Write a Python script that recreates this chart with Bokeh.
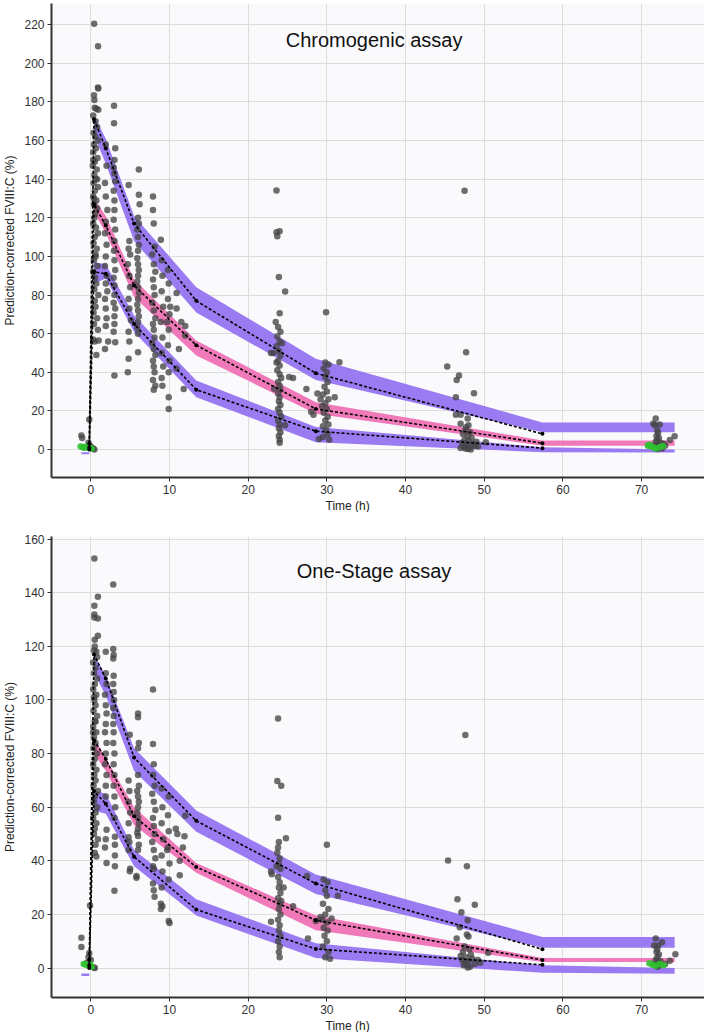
from bokeh.plotting import figure
from bokeh.models import Range1d, FixedTicker, Title, Label
from bokeh.layouts import column
from bokeh.embed import file_html
from bokeh.resources import INLINE

FONT = "Liberation Sans"
PURPLE = "#9a7bf2"
PINK = "#f079b9"
GREEN = "#2fc12f"
GREY = "#454545"

x_ticks = [0, 10, 20, 30, 40, 50, 60, 70]

# ---------------- Chromogenic assay ----------------
chr_y_ticks = [0, 20, 40, 60, 80, 100, 120, 140, 160, 180, 200, 220]
band_t = [0.4, 1.9, 5.5, 13.4, 28.6, 57.4, 74.2]
chr_up_lo = [163, 148, 108, 71, 36, 9, 9]
chr_up_hi = [173, 161, 121, 84, 47, 14, 14]
chr_md_lo = [123, 112, 79, 48.7, 18.5, 2, 2]
chr_md_hi = [130, 121, 88, 56.5, 24.5, 4.7, 4.7]
chr_lw_lo = [86, 88.6, 60.8, 27, 3.8, -1.4, -1.5]
chr_lw_hi = [97, 96, 69.4, 35.8, 11.6, 1.2, 0]

obs_t = [-0.2, 0.4, 1.9, 5.5, 13.4, 28.6, 57.4]
chr_p95 = [3, 171, 156, 117, 77, 39.5, 8.1]
chr_p50 = [1, 127, 116, 85, 54, 21, 3.3]
chr_p05 = [0, 92, 91, 65, 31, 9.5, 0.7]

pre_band_t = [-1.2, -0.2]
chr_pre_lo = [-2.4, -2.4]
chr_pre_hi = [-1.4, -1.4]

chr_pre = [(-1.2, 7.3), (-1.1, 6.0), (-0.2, 15.6), (-0.3, 3.5), (-0.1, 2.0), (0.1, 1.0), (0.45, 0.0), (0.3, 0.5)]
chr_h05 = [(0.42, 220.5), (0.92, 208.8), (0.9, 187.5), (0.95, 187), (0.4, 183.5), (0.45, 181), (0.5, 177), (0.7, 176.5),
           (0.95, 176), (0.3, 173), (0.6, 170), (0.8, 167), (0.35, 164), (0.55, 162), (0.9, 160), (0.4, 158), (0.65, 156),
           (0.3, 154), (0.85, 151), (0.5, 149), (0.25, 147), (0.75, 145), (0.45, 142), (0.6, 140), (0.35, 138), (0.9, 136),
           (0.5, 134), (0.3, 131), (0.7, 129), (0.4, 127), (0.8, 125), (0.55, 122), (0.45, 120), (0.3, 117), (0.65, 115),
           (0.9, 112), (0.5, 110), (0.35, 107), (0.75, 104), (0.6, 101), (0.4, 98), (0.85, 95), (0.3, 92), (0.55, 89),
           (0.7, 86), (0.45, 83), (0.95, 80), (0.5, 77), (0.6, 74), (0.35, 71), (0.8, 68), (0.4, 65), (0.9, 62), (0.3, 57),
           (0.5, 56), (0.7, 49), (1.0, 56.5), (0.6, 100), (0.4, 130), (0.8, 140), (0.3, 150)]
chr_h2 = [(1.9, 158), (2.0, 147), (1.8, 138), (1.9, 131), (2.1, 124), (1.9, 118), (1.8, 112), (2.0, 106), (1.9, 100),
          (1.8, 95), (2.0, 90), (1.9, 86), (2.1, 82), (1.8, 78), (1.9, 73), (2.0, 68), (1.9, 64), (1.8, 52), (2.2, 56)]
chr_h3 = [(2.95, 178), (2.95, 169), (3.1, 156), (3.0, 150), (2.9, 146), (3.0, 143), (3.1, 139), (2.9, 134), (3.0, 129),
          (3.0, 124), (2.9, 119), (3.1, 114), (3.0, 108), (2.95, 103), (3.0, 98), (3.1, 93), (2.9, 89), (3.0, 85),
          (3.0, 80), (2.9, 76), (3.1, 73), (3.0, 69), (3.0, 65), (2.9, 61), (3.1, 55.5), (3.0, 38.3)]
chr_h5 = [(4.8, 137), (4.9, 108), (4.8, 104), (5.0, 101), (4.7, 96), (4.9, 90), (5.0, 84), (4.8, 78), (4.9, 73),
          (5.1, 67), (4.8, 61), (4.9, 56), (4.8, 47), (4.7, 40)]
chr_h6 = [(6.1, 145), (6.1, 132), (6.2, 127), (6.0, 120), (6.1, 117), (5.9, 114), (6.0, 110), (6.1, 106), (6.0, 103),
          (5.9, 99), (6.0, 96), (6.1, 93), (6.0, 90), (5.9, 87), (6.0, 84), (6.1, 81), (6.0, 78), (5.9, 75), (6.0, 72),
          (6.1, 69), (6.0, 66), (5.9, 63), (6.0, 60), (6.0, 50.4)]
chr_h8 = [(7.9, 131), (7.9, 124), (8.0, 117), (8.1, 105), (7.8, 101), (8.0, 96), (8.2, 92), (7.9, 88), (8.0, 84),
          (8.1, 80), (7.8, 76), (8.0, 72), (8.2, 68), (7.9, 65), (8.0, 62), (8.1, 58), (7.8, 55), (8.0, 52), (8.2, 49),
          (7.9, 46), (8.0, 43), (8.1, 40), (7.9, 36), (8.2, 33), (8.0, 31)]
chr_h9 = [(8.9, 108.6), (9.0, 98), (9.8, 93), (9.1, 90), (9.9, 86), (9.0, 82), (9.8, 78), (9.2, 74), (10.0, 70),
          (8.9, 66), (9.9, 62), (9.1, 58), (9.8, 54), (9.0, 50), (10.0, 46), (9.2, 43), (9.9, 40), (9.0, 37), (9.1, 33),
          (9.9, 27), (9.9, 21), (10.1, 74), (9.7, 66)]
chr_h11 = [(10.9, 81), (10.9, 73), (12.0, 64), (12.0, 59), (11.2, 52), (10.9, 42), (11.8, 31.4), (11.5, 66)]
chr_h24 = [(23.6, 134.2), (23.6, 112.5), (24.0, 113), (23.7, 110.5), (23.9, 89.3), (24.7, 81.9), (24.0, 70.6),
           (23.5, 66), (23.8, 63.5), (24.1, 61), (23.7, 58.5), (24.0, 56), (23.6, 53.5), (23.9, 51), (24.1, 48.5),
           (23.2, 50), (22.9, 50), (23.8, 46), (24.0, 43.5), (23.7, 41), (24.0, 39), (24.2, 37), (25.7, 37),
           (25.2, 37.5), (23.8, 35), (24.0, 33), (23.3, 31.5), (24.1, 31), (23.8, 29), (24.0, 27), (23.9, 25),
           (24.1, 23), (23.8, 21), (24.0, 19), (24.2, 17), (23.8, 15), (24.0, 13), (24.7, 12.5), (23.9, 11),
           (24.1, 9), (23.9, 7), (24.0, 5), (24.0, 3.5), (23.6, 45), (24.3, 55)]
chr_h30 = [(29.9, 71.1), (31.6, 45.2), (29.8, 45), (30.2, 44), (29.6, 42), (30.0, 40), (29.8, 37.5), (30.1, 35),
           (29.7, 32.5), (27.4, 31.4), (30.0, 30), (29.5, 28.5), (31.0, 27), (30.2, 26), (29.8, 24), (29.4, 22.5),
           (30.0, 21), (28.0, 19.5), (28.3, 18), (29.6, 19), (30.1, 17), (29.8, 15), (30.2, 13), (29.5, 12),
           (29.9, 10), (30.1, 8), (29.5, 6.5), (30.3, 5), (29.0, 5.5), (29.2, 26), (28.8, 29)]
chr_h48 = [(47.5, 134), (47.7, 50.4), (45.3, 43), (46.8, 38.3), (46.5, 36), (46.4, 27.1), (48.7, 29.2), (46.4, 18),
           (47.0, 18), (47.9, 16), (47.0, 13.4), (48.0, 12.5), (47.6, 10), (48.2, 9), (47.3, 8), (47.9, 7), (48.4, 6),
           (47.5, 5), (48.0, 4.5), (47.2, 3.5), (48.6, 3), (47.8, 2.5), (47.4, 1.5), (48.1, 1), (47.6, 0.5),
           (48.3, 0), (47.9, 0.3), (47.0, 0.8), (48.8, 2), (49.2, 1.5), (50.2, 3.8), (49.0, 4), (47.7, 11.5)]
chr_h72 = [(71.8, 16), (71.5, 13.5), (71.7, 12.5), (72.3, 13), (74.2, 6.9), (73.6, 4.9), (72.0, 10), (72.1, 8.5),
           (71.9, 7), (72.2, 6), (72.0, 5), (71.8, 4), (72.4, 3.5), (72.1, 2.5), (71.6, 2), (72.3, 1.5), (71.9, 1),
           (72.6, 0.5), (72.0, 0.2), (73.0, 2), (72.8, 3)]
chr_green = [(-1.3, 1.5), (-1.0, 1.3), (-0.7, 1.2), (-0.4, 1.0), (-0.1, 0.8), (-0.9, 0.9), (-0.5, 1.4), (0.1, 0.5),
             (70.8, 2.0), (71.2, 1.5), (71.5, 1.0), (71.8, 0.5), (72.3, 1.2), (72.7, 1.8), (71.0, 2.5)]

# ---------------- One-Stage assay ----------------
os_y_ticks = [0, 20, 40, 60, 80, 100, 120, 140, 160]
os_up_lo = [110, 101.7, 73.5, 50.8, 27.6, 7.6, 7.6]
os_up_hi = [117, 109, 82, 58.8, 34.9, 11.6, 11.6]
os_md_lo = [80, 73.5, 53.3, 35.5, 14.1, 2.2, 2.2]
os_md_hi = [86, 78.4, 60, 39.2, 19.6, 3.7, 3.7]
os_lw_lo = [58.8, 57.6, 38, 19.6, 3.7, -1.8, -2.1]
os_lw_hi = [66.2, 65, 44, 25.7, 9.2, 1, 0]

os_p95 = [3, 117, 108, 78.5, 54.9, 31.5, 7.0]
os_p50 = [1, 85, 78, 56.6, 37.7, 17.8, 3.0]
os_p05 = [0, 66, 61.3, 41.5, 21.8, 7.1, 1.2]

os_pre_lo = [-3.0, -3.0]
os_pre_hi = [-2.0, -2.0]

os_pre = [(-1.2, 11.3), (-1.2, 7.8), (-0.1, 23.3), (-0.3, 4), (-0.2, 5.5), (0.0, 3), (-0.5, 2), (0.4, 0.2), (0.5, 0)]
os_h05 = [(0.45, 152.8), (0.9, 138.5), (0.45, 135.2), (0.45, 131.9), (0.45, 130.8), (0.9, 130.4), (0.9, 124),
          (0.5, 122.5), (0.5, 120), (0.4, 118.5), (0.7, 118), (0.8, 116), (0.3, 114), (0.6, 112), (0.4, 110),
          (0.8, 108), (0.5, 106), (0.3, 104), (0.7, 102), (0.45, 100), (0.6, 98), (0.35, 96), (0.8, 94), (0.5, 92),
          (0.3, 90), (0.7, 88), (0.4, 86), (0.6, 84), (0.35, 82), (0.8, 80), (0.5, 78), (0.3, 76), (0.7, 74),
          (0.45, 72), (0.6, 70), (0.35, 68), (0.9, 66), (0.5, 64), (0.4, 62), (0.8, 60), (0.6, 58), (0.3, 56),
          (0.7, 54), (0.5, 52), (0.4, 50), (0.9, 48), (0.6, 46), (0.5, 43), (0.7, 41.6), (0.3, 88), (0.6, 92),
          (0.4, 101)]
os_h2 = [(1.9, 118), (1.9, 110), (2.0, 106), (1.8, 102), (1.9, 98), (2.0, 95), (1.9, 91), (1.8, 88), (2.0, 84),
         (1.9, 80), (1.8, 76), (2.0, 72), (1.9, 68), (1.9, 64), (2.0, 51.6), (1.9, 48), (1.8, 45), (2.0, 39.2)]
os_h3 = [(2.85, 143.1), (2.85, 119), (2.9, 116.8), (2.85, 115.5), (2.9, 109), (2.85, 106), (2.9, 103), (2.95, 100),
         (2.85, 97), (2.9, 94), (2.85, 91), (2.9, 88), (2.85, 84), (3.0, 80), (2.9, 76), (3.0, 72), (2.9, 68),
         (3.0, 64), (3.1, 60), (3.0, 56), (3.06, 49), (3.06, 46), (3.06, 42), (3.06, 38), (3.0, 28.8)]
os_h5 = [(4.95, 87), (4.8, 70), (4.9, 66), (4.8, 62), (5.0, 58), (4.8, 54), (4.8, 48.8), (4.9, 47), (4.8, 44),
         (4.95, 36.1), (5.0, 37), (5.8, 34.3), (5.8, 33.7)]
os_h6 = [(6.0, 95), (6.0, 93.6), (6.1, 84), (6.0, 82), (6.0, 72), (6.1, 68), (5.9, 66), (6.0, 64), (6.1, 62),
         (6.0, 60), (5.9, 58), (6.0, 56), (6.1, 54), (6.0, 52), (5.9, 50.5), (6.0, 49.3), (6.1, 46), (6.0, 44)]
os_h8 = [(7.9, 103.9), (7.9, 83.6), (8.0, 76), (7.9, 72), (8.1, 68), (7.8, 65), (8.0, 62), (8.2, 59), (7.9, 56),
         (8.0, 53), (8.1, 50), (7.8, 47), (8.0, 44), (8.2, 41), (7.9, 38), (8.0, 37), (7.9, 31.5), (8.0, 29),
         (8.1, 26.6)]
os_h9 = [(9.0, 67), (9.9, 64), (9.1, 60), (9.8, 57), (9.0, 54), (9.9, 51), (9.2, 48), (9.8, 45), (9.0, 42),
         (10.0, 39), (9.1, 36), (9.9, 33), (9.0, 30), (8.9, 24), (8.9, 22), (9.1, 23), (9.9, 17.5), (10.0, 16.8),
         (9.7, 44)]
os_h11 = [(11.3, 34.6), (11.9, 49.2), (12.0, 56.8), (10.8, 52), (11.0, 50), (11.3, 40), (11.7, 45)]
os_h24 = [(23.8, 93.1), (23.7, 69.8), (24.2, 68), (23.8, 56.1), (24.8, 48.4), (23.9, 47), (23.8, 45), (23.7, 43),
          (22.9, 36), (23.0, 35), (24.0, 41), (23.9, 39), (24.1, 37), (23.8, 34), (24.0, 32), (23.9, 30),
          (24.1, 28), (23.8, 26), (24.0, 24), (25.7, 23), (23.9, 22), (24.1, 20), (23.8, 18), (22.9, 17.3),
          (24.0, 16), (23.9, 14), (24.1, 12), (23.8, 10), (24.0, 8), (23.9, 6), (24.0, 4), (24.2, 25), (23.6, 38),
          (24.5, 30)]
os_h30 = [(30.0, 46), (31.4, 27), (27.5, 34.3), (27.6, 11), (29.6, 33), (30.1, 32), (29.8, 29), (30.0, 27),
          (29.5, 24), (30.2, 22), (29.8, 20), (29.4, 18), (30.0, 17), (28.6, 17.5), (29.6, 15), (30.1, 14),
          (29.7, 12), (30.0, 10), (29.5, 8), (30.2, 6), (29.8, 4), (30.4, 3.5), (29.2, 19), (30.6, 18.5)]
os_h48 = [(47.6, 86.9), (45.4, 40.1), (47.8, 38), (46.6, 25.7), (48.8, 23.6), (47.1, 20.8), (47.9, 17.8),
          (46.9, 15.2), (46.5, 11), (47.8, 12.5), (48.0, 11.8), (50.5, 5.7), (47.5, 8), (48.1, 7), (47.3, 6),
          (48.3, 5), (47.7, 4), (48.5, 3.5), (47.2, 3), (48.0, 2.5), (47.6, 2), (48.8, 1.5), (47.4, 1), (48.2, 0.5),
          (47.9, 0.2), (49.2, 3), (49.5, 2), (47.0, 4.5)]
os_h72 = [(71.8, 11), (72.6, 9.6), (71.6, 8.4), (72.1, 8.4), (74.3, 5.1), (73.6, 2.7), (72.0, 7), (71.9, 6),
          (72.2, 5), (72.0, 4), (71.8, 3), (72.4, 2.5), (72.1, 2), (71.6, 1.5), (72.3, 1), (72.0, 0.5), (73.0, 1.5)]
os_green = [(-0.9, 1.5), (-0.6, 1.2), (-0.3, 0.8), (-0.1, 1.5), (0.1, 0.5),
            (71.0, 1.8), (71.4, 1.2), (71.8, 0.8), (72.3, 1.5), (72.8, 1.0)]


def split(pairs):
    return [a for a, b in pairs], [b for a, b in pairs]


def make_panel(frame_h, border_top, y_lo, y_hi, y_ticks, bands, obs, points, green, pre_band, title, title_y):
    p = figure(frame_width=653, frame_height=frame_h, x_range=Range1d(-5, 78), y_range=Range1d(y_lo, y_hi),
               output_backend="svg", toolbar_location=None,
               min_border_left=40, min_border_right=0, min_border_top=border_top, min_border_bottom=0)
    p.background_fill_color = "#fafafd"
    p.border_fill_color = "white"
    p.outline_line_color = None

    for ax in (p.xaxis, p.yaxis):
        ax.axis_line_color = "#333333"
        ax.axis_line_width = 2
        ax.major_tick_line_color = "#333333"
        ax.major_tick_out = 4
        ax.major_tick_in = 0
        ax.minor_tick_line_color = None
        ax.major_label_text_font = FONT
        ax.major_label_text_font_size = "12px"
        ax.major_label_text_color = "#333333"
        ax.major_label_standoff = 3
    p.xaxis.ticker = FixedTicker(ticks=x_ticks)
    p.yaxis.ticker = FixedTicker(ticks=y_ticks)
    p.yaxis.axis_label = "Prediction-corrected FVIII:C (%)"
    p.yaxis.axis_label_text_font = FONT
    p.yaxis.axis_label_text_font_size = "12px"
    p.yaxis.axis_label_text_font_style = "normal"
    p.yaxis.axis_label_text_color = "#222222"
    p.yaxis.axis_label_standoff = 4

    p.xgrid.grid_line_color = "#dddddd"
    p.ygrid.grid_line_color = "#dddddd"

    up_lo, up_hi, md_lo, md_hi, lw_lo, lw_hi = bands
    p.varea(x=band_t, y1=up_lo, y2=up_hi, fill_color=PURPLE)
    p.varea(x=band_t, y1=md_lo, y2=md_hi, fill_color=PINK)
    p.varea(x=band_t, y1=lw_lo, y2=lw_hi, fill_color=PURPLE)
    p.varea(x=pre_band_t, y1=pre_band[0], y2=pre_band[1], fill_color=PURPLE)

    xs, ys = [], []
    for grp in points:
        a, b = split(grp)
        xs += a
        ys += b
    p.scatter(xs, ys, size=6.5, fill_color=GREY, fill_alpha=0.78, line_color=None)
    gx, gy = split(green)
    p.scatter(gx, gy, size=6.5, fill_color=GREEN, fill_alpha=0.9, line_color=None)

    for yv in obs:
        p.line(obs_t, yv, line_color="black", line_width=1.6, line_dash="3 2")
        p.scatter(obs_t, yv, size=4, fill_color="black", line_color=None)

    p.add_layout(Label(x=36, y=title_y, text=title, text_align="center", text_baseline="middle",
                       text_font=FONT, text_font_size="20px", text_color="#111111"))
    p.add_layout(Title(text="Time (h)", align="left", offset=274, text_font=FONT, text_font_size="12px",
                       text_font_style="normal", text_color="#222222", standoff=0), "below")
    return p


p1 = make_panel(474, 3, -14.5, 231, chr_y_ticks,
                (chr_up_lo, chr_up_hi, chr_md_lo, chr_md_hi, chr_lw_lo, chr_lw_hi),
                (chr_p95, chr_p50, chr_p05),
                [chr_pre, chr_h05, chr_h2, chr_h3, chr_h5, chr_h6, chr_h8, chr_h9, chr_h11, chr_h24, chr_h30,
                 chr_h48, chr_h72],
                chr_green, (chr_pre_lo, chr_pre_hi), "Chromogenic assay", 212)

p2 = make_panel(461, 24, -11, 161, os_y_ticks,
                (os_up_lo, os_up_hi, os_md_lo, os_md_hi, os_lw_lo, os_lw_hi),
                (os_p95, os_p50, os_p05),
                [os_pre, os_h05, os_h2, os_h3, os_h5, os_h6, os_h8, os_h9, os_h11, os_h24, os_h30,
                 os_h48, os_h72],
                os_green, (os_pre_lo, os_pre_hi), "One-Stage assay", 148)

layout = column(p1, p2, spacing=0)
open("out.html", "w").write(file_html(layout, INLINE))
